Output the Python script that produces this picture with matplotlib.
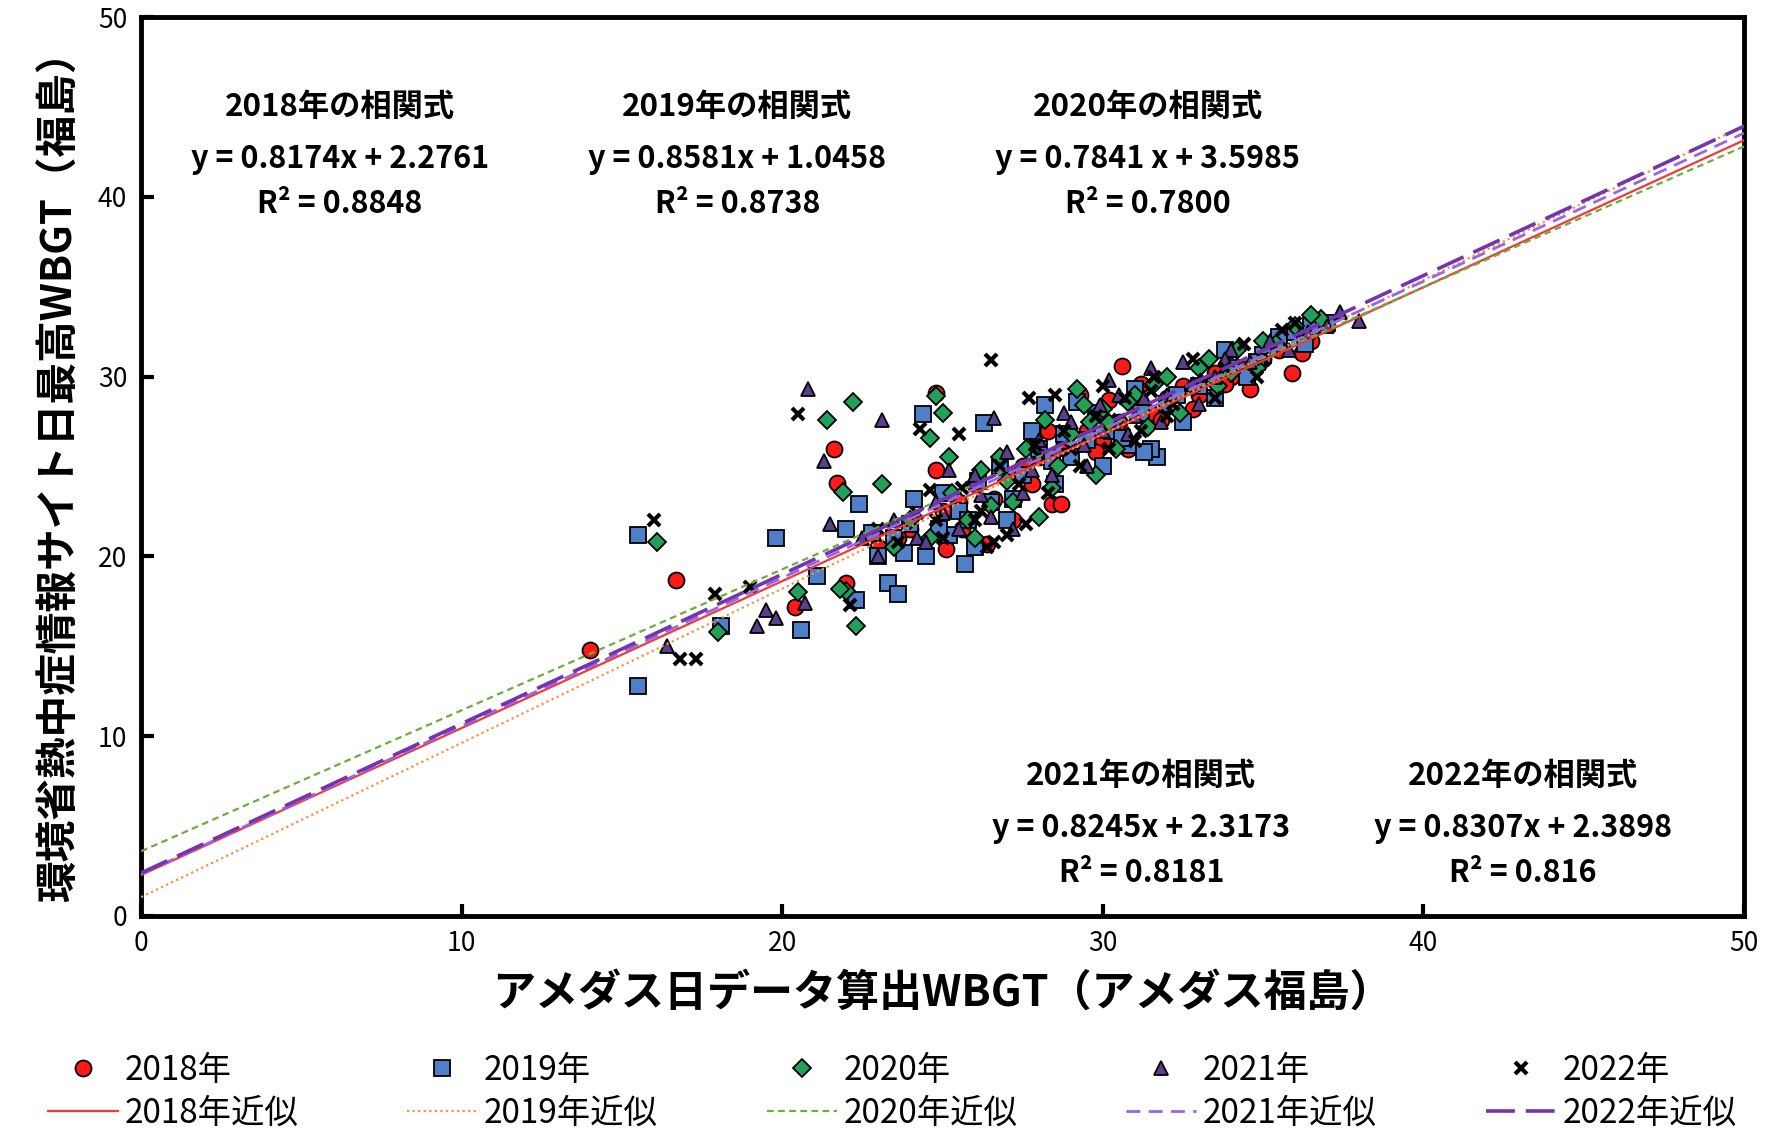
import numpy as np
import matplotlib
matplotlib.use("Agg")
import matplotlib.pyplot as plt

plt.rcParams['font.family'] = ['Noto Sans CJK JP', 'DejaVu Sans']

years = ["2018", "2019", "2020", "2021", "2022"]

# daily WBGT: AMeDAS-derived (x) vs MOE heat-stroke site max (y)
x_2018 = [14.0, 16.7, 20.4, 21.6, 21.7, 24.8, 24.8, 26.4, 28.4, 28.7, 30.6, 34.6, 35.9, 36.2, 22.0,
          25.1, 31.2, 23.0, 24.0, 25.0, 25.5, 26.0, 27.0, 27.5, 28.0, 28.8, 29.5, 30.0, 30.5, 31.0,
          31.5, 32.0, 32.5, 33.0, 33.5, 34.0, 35.0, 35.5, 36.5, 29.3, 27.2, 25.6, 30.2,
          23.6, 26.6, 27.8, 29.8, 31.8, 32.8, 33.8, 34.4, 28.3, 30.8]
y_2018 = [14.8, 18.7, 17.2, 26.0, 24.1, 29.1, 24.8, 20.7, 22.9, 22.9, 30.6, 29.3, 30.2, 31.3, 18.5,
          20.4, 29.6, 20.5, 21.5, 22.5, 23.0, 24.0, 24.5, 25.0, 25.5, 26.2, 27.0, 26.5, 27.5, 28.5,
          28.0, 28.8, 29.5, 29.0, 30.2, 30.0, 31.0, 31.5, 32.0, 29.0, 22.0, 21.5, 28.7,
          21.0, 23.2, 24.0, 25.8, 27.6, 28.2, 29.6, 30.4, 27.0, 26.0]

x_2019 = [15.5, 15.5, 19.8, 18.1, 20.6, 23.3, 23.6, 24.4, 25.7, 31.7, 28.2, 22.3, 21.1, 22.4, 26.3,
          22.0, 22.8, 23.5, 23.8, 24.5, 25.2, 25.5, 26.0, 26.5, 27.0, 27.5, 27.8, 28.0, 28.5, 29.0,
          29.5, 30.0, 30.3, 30.8, 31.2, 31.5, 32.0, 32.5, 33.0, 33.5, 34.0, 34.5, 35.0, 35.5, 36.0,
          36.5, 37.0, 29.2, 25.0, 24.1, 23.0, 26.8, 33.8,
          24.9, 25.8, 27.2, 28.8, 29.8, 30.6, 31.3, 32.3, 26.1, 24.0, 31.0, 28.4, 34.8, 36.3]
y_2019 = [21.2, 12.8, 21.0, 16.1, 15.9, 18.5, 17.9, 27.9, 19.6, 25.5, 28.4, 17.6, 18.9, 22.9, 27.4,
          21.5, 21.3, 21.0, 20.2, 20.0, 21.2, 22.5, 20.5, 23.0, 22.0, 24.5, 27.0, 26.0, 24.0, 25.5,
          26.5, 25.0, 27.0, 26.2, 28.0, 26.0, 28.5, 27.5, 29.5, 28.8, 30.5, 30.0, 31.2, 32.2, 32.5,
          32.8, 33.0, 28.6, 23.5, 23.2, 20.0, 25.0, 31.5,
          21.5, 22.0, 23.2, 26.8, 28.0, 26.6, 25.8, 29.0, 24.2, 21.8, 29.3, 25.3, 30.8, 31.8]

x_2020 = [16.1, 18.0, 21.4, 22.2, 21.9, 22.3, 23.1, 24.8, 25.0, 24.6, 29.2, 22.0, 36.8, 21.8, 20.5,
          23.5, 24.0, 24.6, 25.3, 25.8, 26.2, 26.8, 27.2, 27.6, 28.2, 28.6, 29.0, 29.6, 30.0, 30.4,
          31.0, 31.4, 32.0, 32.4, 33.0, 33.6, 34.2, 34.8, 35.4, 36.0, 36.5, 28.0, 26.0, 30.8, 29.8, 25.2,
          27.0, 28.4, 30.2, 31.6, 32.8, 34.0, 26.5, 29.4, 33.3, 35.0]
y_2020 = [20.8, 15.8, 27.6, 28.6, 23.6, 16.1, 24.0, 28.9, 28.0, 26.6, 29.3, 18.1, 33.2, 18.2, 18.0,
          20.5, 22.0, 21.0, 23.5, 22.0, 24.8, 25.5, 23.0, 26.0, 27.6, 25.0, 26.8, 27.5, 28.2, 26.0,
          29.0, 27.2, 30.0, 28.0, 30.5, 29.5, 31.5, 30.5, 31.8, 32.8, 33.4, 22.2, 21.0, 28.6, 24.5, 25.5,
          24.2, 23.8, 27.4, 29.6, 29.4, 30.2, 22.8, 28.4, 31.0, 32.0]

x_2021 = [20.8, 21.3, 23.1, 19.2, 19.8, 16.4, 20.7, 38.0, 37.4, 25.2, 19.5, 21.5, 26.6, 28.8, 30.2,
          22.5, 23.0, 23.5, 24.2, 24.8, 25.5, 26.0, 26.5, 27.0, 27.5, 28.0, 28.4, 29.0, 29.5, 30.0,
          30.5, 31.0, 31.5, 32.0, 32.5, 33.0, 33.5, 34.0, 34.6, 35.2, 35.8, 36.4, 37.0, 27.2, 31.8, 29.4,
          25.0, 26.2, 27.8, 28.6, 30.8, 31.3, 32.8, 33.8, 24.5, 29.9]
y_2021 = [29.3, 25.3, 27.6, 16.1, 16.6, 15.0, 17.4, 33.1, 33.6, 24.8, 17.0, 21.8, 27.7, 28.0, 29.8,
          21.0, 20.0, 22.0, 21.0, 23.0, 21.5, 24.5, 22.2, 25.8, 23.5, 26.5, 24.5, 27.5, 25.0, 27.0,
          29.0, 27.8, 30.5, 29.0, 30.8, 28.5, 30.0, 31.5, 30.8, 32.0, 31.5, 32.5, 32.8, 21.5, 27.5, 26.2,
          22.4, 23.4, 24.8, 26.0, 26.8, 28.8, 29.6, 31.0, 20.8, 28.4]

x_2022 = [16.0, 17.3, 16.8, 17.9, 20.5, 26.5, 25.5, 27.7, 22.1, 24.3, 36.0, 19.0, 24.6, 28.5, 26.4,
          23.0, 23.6, 24.2, 25.0, 25.6, 26.2, 26.8, 27.4, 27.9, 28.3, 28.8, 29.3, 29.8, 30.2, 30.7,
          31.2, 31.6, 32.2, 32.8, 33.2, 33.8, 34.4, 35.0, 35.6, 26.6, 30.0, 27.0, 31.5,
          24.8, 26.0, 28.0, 29.0, 30.5, 32.0, 33.5, 34.8, 27.6, 31.0]
y_2022 = [22.0, 14.3, 14.3, 17.9, 27.9, 30.9, 26.8, 28.8, 17.3, 27.1, 33.0, 18.3, 23.7, 29.0, 20.5,
          21.5, 20.8, 22.4, 21.0, 23.8, 22.5, 25.0, 24.0, 26.2, 23.5, 27.0, 25.0, 27.8, 26.0, 28.8,
          27.0, 30.0, 28.5, 31.0, 29.8, 30.5, 31.8, 31.0, 32.6, 20.8, 29.5, 21.2, 29.2,
          22.0, 22.0, 25.6, 26.0, 27.6, 27.8, 28.8, 30.0, 21.8, 26.4]

# trendline coefficients from the chart annotations
slopes = [0.8174, 0.8581, 0.7841, 0.8245, 0.8307]
intercepts = [2.2761, 1.0458, 3.5985, 2.3173, 2.3898]
r2_labels = ["0.8848", "0.8738", "0.7800", "0.8181", "0.816"]
eq_labels = ["y = 0.8174x + 2.2761", "y = 0.8581x + 1.0458", "y = 0.7841 x + 3.5985",
             "y = 0.8245x + 2.3173", "y = 0.8307x + 2.3898"]

xs = [x_2018, x_2019, x_2020, x_2021, x_2022]
ys = [y_2018, y_2019, y_2020, y_2021, y_2022]

markers = ['o', 's', 'D', '^', 'x']
face = ['#FF1A1A', '#4F7FC8', '#22A05A', '#5B3E8C', 'black']
msize = [11.5, 11.5, 9.5, 10.5, 8.5]
line_col = ['#F03A3A', '#FF8C3A', '#6AAE3E', '#9A66E0', '#7434B0']
line_style = ['-', (0, (1, 1.5)), (0, (3, 2)), (0, (5, 3)), (0, (8, 3))]
line_w = [1.6, 1.6, 1.6, 2.0, 2.6]

fig = plt.figure(figsize=(17.68, 11.35), dpi=100)
ax = fig.add_axes([0.0798, 0.193, 0.9066, 0.792])

handles = []
for i, yr in enumerate(years):
    if markers[i] == 'x':
        h, = ax.plot(xs[i], ys[i], ls='none', marker='x', color='black', ms=msize[i],
                     mew=3, zorder=3 + i * 0.1, label=yr + "年")
    else:
        h, = ax.plot(xs[i], ys[i], ls='none', marker=markers[i], mfc=face[i], mec='black',
                     mew=1.3, ms=msize[i], zorder=3 + i * 0.1, label=yr + "年")
    handles.append(h)

xline = np.array([0, 50])
for i, yr in enumerate(years):
    h, = ax.plot(xline, slopes[i] * xline + intercepts[i], color=line_col[i],
                 ls=line_style[i], lw=line_w[i], zorder=5, label=yr + "年近似")
    handles.append(h)

ax.set_xlim(0, 50)
ax.set_ylim(0, 50)
ax.set_xticks(range(0, 51, 10))
ax.set_yticks(range(0, 51, 10))
ax.tick_params(direction='in', length=9, width=3, labelsize=19, pad=10)
for s in ax.spines.values():
    s.set_linewidth(3.5)

ax.set_xlabel("アメダス日データ算出WBGT（アメダス福島）", fontsize=31, fontweight='bold', labelpad=10)
ax.set_ylabel("環境省熱中症情報サイト日最高WBGT（福島）", fontsize=30, fontweight='bold', labelpad=12)

# correlation annotations
pos = [(6.2, 45.0), (18.6, 45.0), (31.4, 45.0), (31.2, 7.8), (43.1, 7.8)]
for i, yr in enumerate(years):
    px, py = pos[i]
    ax.text(px, py, yr + "年の相関式", ha='center', va='center', fontsize=22.5, fontweight='bold')
    ax.text(px, py - 2.9, eq_labels[i], ha='center', va='center', fontsize=22, fontweight='bold')
    ax.text(px, py - 5.4, "R² = " + r2_labels[i], ha='center', va='center', fontsize=22,
            fontweight='bold')

order = []
for i in range(5):
    order += [handles[i], handles[i + 5]]
fig.legend(handles=order, labels=[h.get_label() for h in order], ncol=5, loc='lower left',
           bbox_to_anchor=(0.027, 0.004, 0.955, 0.1), mode='expand', frameon=False,
           fontsize=24, handlelength=2.1, handletextpad=0.2, borderpad=0.0,
           labelspacing=0.22, borderaxespad=0.0)

fig.savefig("out.png", dpi=100)
